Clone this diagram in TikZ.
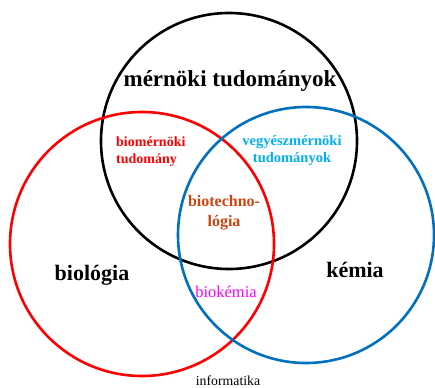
\documentclass[tikz,border=0pt]{standalone}
\usepackage{fontspec}
\setmainfont{Liberation Serif}
\usepackage{tikz}
\usetikzlibrary{positioning}

\definecolor{engred}{RGB}{255,0,0}
\definecolor{chemblue}{RGB}{0,112,192}
\definecolor{skytext}{RGB}{0,176,240}
\definecolor{techorange}{RGB}{204,68,17}
\definecolor{biomag}{RGB}{255,0,255}

\tikzset{
  field/.style={circle,draw,line width=2.6pt,minimum size=#1,inner sep=0pt},
  bigname/.style={font=\fontsize{22}{26}\selectfont\bfseries,inner sep=0pt},
  overlap/.style 2 args={font=\fontsize{#1}{#2}\selectfont\bfseries,inner sep=0pt},
}

\begin{document}
\begin{tikzpicture}[x=1pt,y=-1pt]
  \useasboundingbox (0,0) rectangle (435,387);

  \node (circ_eng) at (229,141) [field=256pt,draw=black] {};
  \node (circ_bio) at (142,244) [field=264pt,draw=engred] {};
  \node (circ_chem) at (306,235) [field=256pt,draw=chemblue] {};

  \node (lbl_eng) at (230,87) [anchor=base,bigname,font=\fontsize{23}{27}\selectfont\bfseries] {mérnöki tudományok};
  \node (lbl_bio) at (92,280) [anchor=base,bigname] {biológia};
  \node (lbl_chem) at (355,277) [anchor=base,bigname] {kémia};

  \node (lbl_bioeng) at (116,152) [anchor=west,align=left,overlap={14}{17},text=engred] {biomérnöki\\tudomány};
  \node (lbl_chemeng) at (292,151) [align=center,overlap={14.5}{17},text=skytext] {vegyészmérnöki\\tudományok};
  \node (lbl_biotech) at (224,213) [align=center,overlap={16}{20},text=techorange] {biotechno-\\lógia};
  \node (lbl_biochem) at (226,297) [anchor=base,inner sep=0pt,text=biomag,font=\fontsize{16.5}{20}\selectfont] {biokémia};
  \node (lbl_info) at (228,385) [anchor=base,inner sep=0pt,font=\fontsize{13.8}{16}\selectfont] {informatika};
%
\end{tikzpicture}
\end{document}
